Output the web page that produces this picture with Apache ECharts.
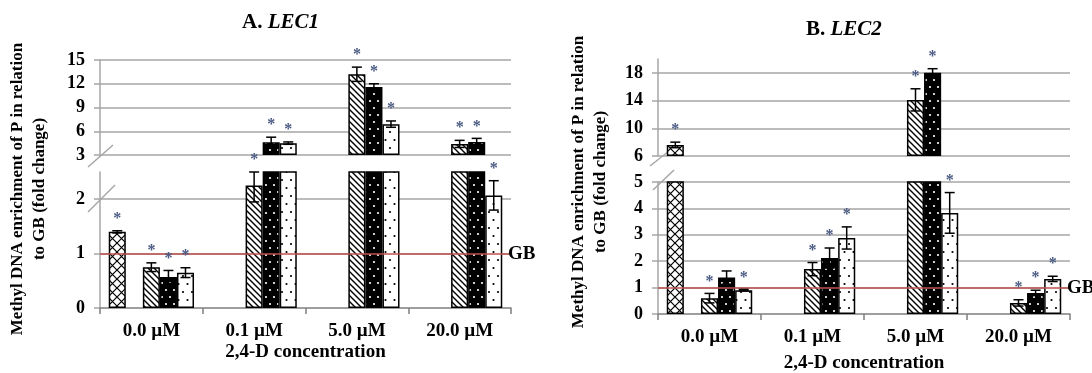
<!DOCTYPE html>
<html>
<head>
<meta charset="utf-8">
<script src="https://cdn.jsdelivr.net/npm/echarts@6/dist/echarts.min.js"></script>
<style>
html, body { margin: 0; padding: 0; background: #fff; }
#main { width: 1092px; height: 373px; }
</style>
</head>
<body>
<div id="main"></div>
<script>
var categories = ['0.0 µM', '0.1 µM', '5.0 µM', '20.0 µM'];

// A. LEC1  (cross = only at 0.0 µM)
var lec1Cross = [1.4, null, null, null];
var lec1CrossErr = [0.02, 0, 0, 0];
var lec1CrossSig = [1, 0, 0, 0];
var lec1Diag = [0.75, 2.25, 13.2, 4.4];
var lec1DiagErr = [0.08, 0.3, 0.9, 0.45];
var lec1DiagSig = [1, 1, 1, 1];
var lec1Black = [0.57, 4.6, 11.6, 4.65];
var lec1BlackErr = [0.12, 0.65, 0.4, 0.45];
var lec1BlackSig = [1, 1, 1, 1];
var lec1Dot = [0.65, 4.5, 6.9, 2.07];
var lec1DotErr = [0.09, 0.15, 0.4, 0.27];
var lec1DotSig = [1, 1, 1, 1];

// B. LEC2
var lec2Cross = [7.6, null, null, null];
var lec2CrossErr = [0.4, 0, 0, 0];
var lec2CrossSig = [1, 0, 0, 0];
var lec2Diag = [0.6, 1.7, 14.1, 0.42];
var lec2DiagErr = [0.18, 0.25, 1.6, 0.12];
var lec2DiagSig = [1, 1, 1, 1];
var lec2Black = [1.38, 2.12, 18.0, 0.8];
var lec2BlackErr = [0.25, 0.38, 0.6, 0.1];
var lec2BlackSig = [0, 1, 1, 1];
var lec2Dot = [0.9, 2.88, 3.83, 1.33];
var lec2DotErr = [0.03, 0.42, 0.77, 0.1];
var lec2DotSig = [1, 1, 1, 1];

// broken axes: lower part / upper part
var lec1LowAxis = { min: 0, max: 2.5, interval: 1 };
var lec1UpAxis = { min: 3, max: 15, interval: 3 };
var lec2LowAxis = { min: 0, max: 5, interval: 1 };
var lec2UpAxis = { min: 6, max: 20, interval: 4 };

var FONT = 'Liberation Serif';
var GRIDC = '#a6a6a6';
var GAP = 0.17;

function makePattern(w, h, draw) {
  var c = document.createElement('canvas');
  c.width = w; c.height = h;
  draw(c.getContext('2d'), w, h);
  return { image: c, repeat: 'repeat' };
}
var crossFill = makePattern(9, 9, function (g, w, h) {
  g.fillStyle = '#fff'; g.fillRect(0, 0, w, h);
  g.strokeStyle = '#000'; g.lineWidth = 1.2;
  g.beginPath(); g.moveTo(0, 0); g.lineTo(w, h); g.moveTo(w, 0); g.lineTo(0, h); g.stroke();
});
var diagFill = makePattern(6, 6, function (g, w, h) {
  g.fillStyle = '#fff'; g.fillRect(0, 0, w, h);
  g.strokeStyle = '#000'; g.lineWidth = 1.4;
  g.beginPath();
  g.moveTo(-1, -1); g.lineTo(7, 7);
  g.moveTo(-1, 5); g.lineTo(1, 7);
  g.moveTo(5, -1); g.lineTo(7, 1);
  g.stroke();
});
var blackFill = makePattern(8, 14, function (g, w, h) {
  g.fillStyle = '#000'; g.fillRect(0, 0, w, h);
  g.fillStyle = '#fff';
  g.beginPath(); g.arc(2, 3, 1.1, 0, 7); g.fill();
  g.beginPath(); g.arc(6, 10, 1.1, 0, 7); g.fill();
});
var dotFill = makePattern(9, 16, function (g, w, h) {
  g.fillStyle = '#fff'; g.fillRect(0, 0, w, h);
  g.fillStyle = '#000';
  g.beginPath(); g.arc(3, 4, 1.1, 0, 7); g.fill();
  g.beginPath(); g.arc(7.5, 12, 1.1, 0, 7); g.fill();
});
var fills = [crossFill, null, diagFill, blackFill, dotFill];

function renderErr(params, api) {
  var cs = params.coordSys;
  var cat = api.value(0), slot = api.value(1), v = api.value(2), e = api.value(3), sig = api.value(4);
  var band = api.size([1, 0])[0] * (1 - GAP);
  var x = api.coord([cat, v])[0] - band / 2 + (slot + 0.5) * band / 5;
  var yTop = Math.max(api.coord([cat, v + e])[1], cs.y);
  var yBot = Math.min(api.coord([cat, v - e])[1], cs.y + cs.height);
  var st = { stroke: '#000', lineWidth: 1.5 };
  var kids = [];
  if (e > 0) {
    kids.push({ type: 'line', shape: { x1: x, y1: yTop, x2: x, y2: yBot }, style: st });
    kids.push({ type: 'line', shape: { x1: x - 5, y1: yTop, x2: x + 5, y2: yTop }, style: st });
    kids.push({ type: 'line', shape: { x1: x - 5, y1: yBot, x2: x + 5, y2: yBot }, style: st });
  }
  if (sig) {
    kids.push({
      type: 'text', x: x, y: yTop - 12,
      style: { text: '*', fill: '#4a5a82', font: 'bold 16px "' + FONT + '"', align: 'center', verticalAlign: 'middle' }
    });
  }
  return { type: 'group', children: kids };
}

function panelSeries(vals, errs, sigs, lowAx, upAx, lowIdx, upIdx) {
  var out = [], lowErr = [], upErr = [];
  for (var s = 0; s < 5; s++) {
    var v = vals[s] || [null, null, null, null];
    var common = {
      type: 'bar', barGap: 0, barCategoryGap: (GAP * 100) + '%', silent: true,
      itemStyle: { color: fills[s] || '#fff', borderColor: '#000', borderWidth: 1.5 }
    };
    out.push(Object.assign({}, common, {
      xAxisIndex: lowIdx, yAxisIndex: lowIdx,
      data: v.map(function (d) { return d == null ? '-' : d; })
    }));
    out.push(Object.assign({}, common, {
      xAxisIndex: upIdx, yAxisIndex: upIdx,
      data: v.map(function (d) { return d != null && d > upAx.min ? d : '-'; })
    }));
    for (var i = 0; i < v.length; i++) {
      if (v[i] == null) continue;
      var item = [i, s, v[i], errs[s][i], sigs[s][i]];
      (v[i] > lowAx.max ? upErr : lowErr).push(item);
    }
  }
  // GB reference line on the lower part
  out[out.length - 2].markLine = {
    silent: true, symbol: ['none', 'none'],
    lineStyle: { color: '#c0504d', width: 1.5, type: 'solid' },
    label: {
      formatter: 'GB', position: 'end', distance: -3, padding: [0, 0, 42, 0],
      fontFamily: FONT, fontWeight: 'bold', fontSize: 19, color: '#000'
    },
    data: [{ yAxis: 1 }]
  };
  [[lowErr, lowIdx], [upErr, upIdx]].forEach(function (p) {
    out.push({
      type: 'custom', xAxisIndex: p[1], yAxisIndex: p[1], clip: false, z: 5, silent: true,
      dimensions: ['cat', 'slot', 'val', 'err', 'sig'],
      encode: { x: 0, y: 2 },
      renderItem: renderErr, data: p[0]
    });
  });
  return out;
}

var grids = [
  { left: 100, width: 411, top: 172, height: 136 },
  { left: 100, width: 411, top: 60, height: 95 },
  { left: 658, width: 412, top: 182, height: 132 },
  { left: 658, width: 412, top: 59, height: 97 }
];
var axesY = [lec1LowAxis, lec1UpAxis, lec2LowAxis, lec2UpAxis];

var labelFont = { fontFamily: FONT, fontWeight: 'bold', fontSize: 18, color: '#000' };

var xAxes = grids.map(function (g, i) {
  var lower = i % 2 === 0;
  return Object.assign({
    type: 'category', gridIndex: i, data: categories, show: lower,
    axisLine: { show: lower, lineStyle: { color: '#7f7f7f', width: 1.5 } },
    axisTick: { show: lower, length: 6, lineStyle: { color: '#7f7f7f', width: 1.5 } },
    axisLabel: Object.assign({ margin: 14 }, labelFont, { fontSize: 19 }),
    splitLine: { show: false }
  }, lower ? {
    name: '2,4-D concentration', nameLocation: 'middle', nameGap: i === 0 ? 35 : 40,
    nameTextStyle: Object.assign({}, labelFont, { fontSize: 19 })
  } : {});
});
var yAxes = grids.map(function (g, i) {
  var a = axesY[i];
  var lower = i % 2 === 0;
  return {
    type: 'value', gridIndex: i, min: a.min, max: a.max, interval: a.interval, startValue: a.min,
    axisLine: { show: true, lineStyle: { color: GRIDC, width: 1.5 } },
    axisTick: { show: true, length: 6, lineStyle: { color: GRIDC, width: 1.5 } },
    axisLabel: Object.assign({ margin: 15, showMaxLabel: (a.max - a.min) % a.interval === 0 }, labelFont),
    splitLine: {
      show: true, showMinLine: !lower, showMaxLine: (a.max - a.min) % a.interval === 0,
      lineStyle: { color: GRIDC, width: 1.5 }
    }
  };
});

var series = []
  .concat(panelSeries([lec1Cross, null, lec1Diag, lec1Black, lec1Dot],
    [lec1CrossErr, null, lec1DiagErr, lec1BlackErr, lec1DotErr],
    [lec1CrossSig, null, lec1DiagSig, lec1BlackSig, lec1DotSig],
    lec1LowAxis, lec1UpAxis, 0, 1))
  .concat(panelSeries([lec2Cross, null, lec2Diag, lec2Black, lec2Dot],
    [lec2CrossErr, null, lec2DiagErr, lec2BlackErr, lec2DotErr],
    [lec2CrossSig, null, lec2DiagSig, lec2BlackSig, lec2DotSig],
    lec2LowAxis, lec2UpAxis, 2, 3));

var titleRich = {
  a: { fontFamily: FONT, fontWeight: 'bold', fontSize: 21, color: '#000' },
  b: { fontFamily: FONT, fontWeight: 'bold', fontStyle: 'italic', fontSize: 21, color: '#000' }
};

function yName(x, y) {
  return {
    type: 'text', x: x, y: y, rotation: Math.PI / 2,
    style: {
      text: 'Methyl DNA enrichment of P in relation\nto GB (fold change)',
      font: 'bold 17px "' + FONT + '"', fontFamily: FONT, fontWeight: 'bold', fontSize: 17,
      align: 'center', verticalAlign: 'middle', textAlign: 'center', textVerticalAlign: 'middle',
      lineHeight: 22, fill: '#000'
    }
  };
}
function slash(x1, y1, x2, y2) {
  return { type: 'line', shape: { x1: x1, y1: y1, x2: x2, y2: y2 }, style: { stroke: GRIDC, lineWidth: 1.5 }, silent: true };
}

var chart = echarts.init(document.getElementById('main'));
chart.setOption({
  animation: false,
  backgroundColor: '#fff',
  title: [
    { text: '{a|A. }{b|LEC1}', left: 242, top: 12, padding: 0, textStyle: { rich: titleRich } },
    { text: '{a|B. }{b|LEC2}', left: 806, top: 19, padding: 0, textStyle: { rich: titleRich } }
  ],
  grid: grids.map(function (g) { return Object.assign({ outerBoundsMode: 'none', containLabel: false }, g); }),
  xAxis: xAxes,
  yAxis: yAxes,
  series: series,
  graphic: [
    yName(29, 189),
    yName(590, 182),
    slash(88, 167, 113, 145),
    slash(88, 212, 115, 185),
    slash(650, 166, 669, 151),
    slash(653, 190, 674, 170)
  ]
});
</script>
</body>
</html>
